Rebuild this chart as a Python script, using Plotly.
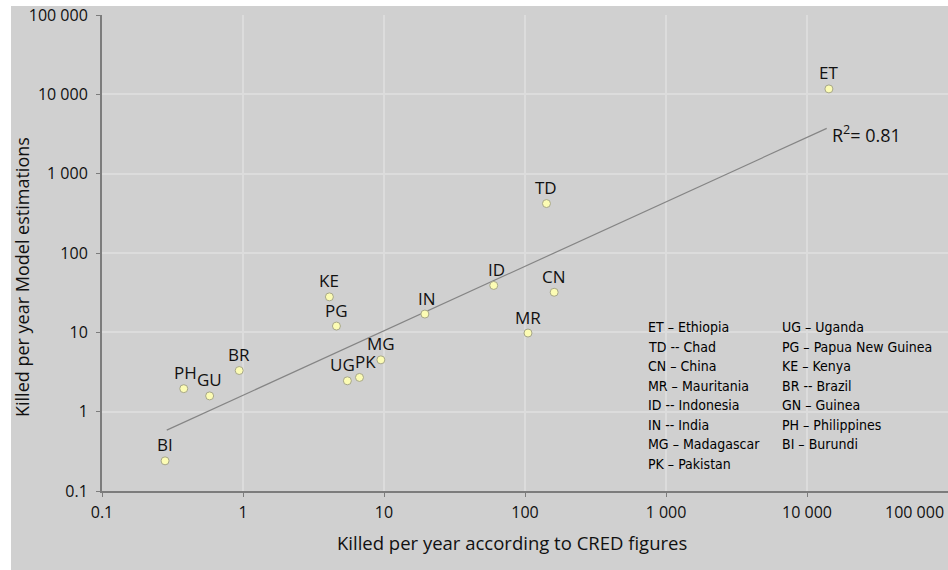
import math
import plotly.graph_objects as go

# Country codes with deaths per year: CRED records vs. model estimates
codes = ["ET", "TD", "CN", "MR", "ID", "IN", "KE", "PG", "MG", "PK", "UG", "BR", "PH", "GU", "BI"]
cred_killed = [14300, 142, 161, 105, 60, 19.5, 4.1, 4.6, 9.5, 6.7, 5.5, 0.94, 0.38, 0.58, 0.28]
model_killed = [11700, 420, 32, 9.8, 39, 17, 28, 12, 4.5, 2.7, 2.45, 3.3, 1.95, 1.58, 0.24]

# Power-law trend line end points and its fit quality
trend_x = [0.288, 13800]
trend_y = [0.585, 3725]
r_squared = "0.81"

# Axis ticks
tick_vals = [0.1, 1, 10, 100, 1000, 10000, 100000]
tick_text = ["0.1", "1", "10", "100", "1 000", "10 000", "100 000"]

# Key to the country codes (two columns)
key_left = ["ET – Ethiopia", "TD -- Chad", "CN – China", "MR – Mauritania",
            "ID -- Indonesia", "IN -- India", "MG – Madagascar", "PK – Pakistan"]
key_right = ["UG – Uganda", "PG – Papua New Guinea", "KE – Kenya", "BR -- Brazil",
             "GN – Guinea", "PH – Philippines", "BI – Burundi"]

# small horizontal nudges (px) so crowded point labels do not collide
label_nudge = {"UG": -5, "PK": 6, "ID": 3, "PH": 2, "IN": 2}

BG = "#d0d0d0"
GRID = "#dcdcdc"
AXIS = "#7c7c7c"
TXT = "#111111"
FONT = "Open Sans"

W, H = 948, 570
ML, MR_, MT, MB = 102, 0, 15, 79
PW, PH_ = W - ML - MR_, H - MT - MB

fig = go.Figure()

fig.add_trace(go.Scatter(
    x=trend_x, y=trend_y, mode="lines",
    line=dict(color="#858585", width=1.2),
    hoverinfo="skip", showlegend=False,
))

fig.add_trace(go.Scatter(
    x=cred_killed, y=model_killed, mode="markers",
    marker=dict(size=8, color="#fcfcb4", line=dict(color="#a6a68a", width=1)),
    showlegend=False,
))

axis_common = dict(
    type="log", range=[-1, 5],
    showgrid=True, gridcolor=GRID, gridwidth=2,
    showline=True, linecolor=AXIS, linewidth=2,
    ticks="outside", ticklen=4, tickcolor=AXIS, tickwidth=1,
    tickfont=dict(family=FONT, size=16, color=TXT),
    zeroline=False,
)

# last x label is right-aligned separately to stay inside the page
fig.update_xaxes(**axis_common, tickvals=tick_vals, ticktext=tick_text[:-1] + [""],
                 ticklabelstandoff=2)
fig.update_yaxes(**axis_common, tickvals=tick_vals, ticktext=tick_text,
                 ticklabelstandoff=5)

annotations = [
    dict(x=1, y=0, xref="paper", yref="paper", text=tick_text[-1],
         showarrow=False, xanchor="right", yanchor="top", yshift=-8, xshift=-2,
         font=dict(family=FONT, size=16, color=TXT)),
    dict(x=(512 - ML) / PW, y=1 - (542 - MT) / PH_, xref="paper", yref="paper",
         text="Killed per year according to CRED figures", showarrow=False,
         xanchor="center", yanchor="middle",
         font=dict(family=FONT, size=18.5, color=TXT)),
    dict(x=(22 - ML) / PW, y=1 - (277 - MT) / PH_, xref="paper", yref="paper",
         text="Killed per year Model estimations", showarrow=False, textangle=-90,
         xanchor="center", yanchor="middle",
         font=dict(family=FONT, size=18, color=TXT)),
    dict(x=math.log10(trend_x[1]), y=math.log10(trend_y[1]), xref="x", yref="y",
         text="R<sup>2</sup>= " + r_squared, showarrow=False,
         xanchor="left", yanchor="middle", xshift=3, yshift=-6,
         font=dict(family=FONT, size=18, color=TXT)),
]

# point labels just above each marker
for code, cx, my in zip(codes, cred_killed, model_killed):
    annotations.append(dict(
        x=math.log10(cx), y=math.log10(my), xref="x", yref="y",
        text=code, showarrow=False, xanchor="center", yanchor="middle",
        xshift=label_nudge.get(code, 0), yshift=16,
        font=dict(family=FONT, size=17, color=TXT),
    ))

row_px = [327, 346.5, 366, 385.5, 405, 424.5, 444, 463.5]
for col_x, items in ((648, key_left), (782, key_right)):
    for i, label in enumerate(items):
        annotations.append(dict(
            x=(col_x - ML) / PW, y=1 - (row_px[i] - MT) / PH_,
            xref="paper", yref="paper", text=label, showarrow=False,
            xanchor="left", yanchor="middle", xshift=-2,
            font=dict(family="DejaVu Sans Condensed", size=14, color="#000000"),
        ))

# white page edge along the top and left
shapes = [
    dict(type="rect", xref="paper", yref="paper",
         x0=-ML / PW, x1=(11 - ML) / PW, y0=-MB / PH_ - 0.01, y1=1 + MT / PH_ + 0.01,
         fillcolor="white", line=dict(width=0), layer="below"),
    dict(type="rect", xref="paper", yref="paper",
         x0=-ML / PW, x1=1.01, y0=1 + (MT - 6) / PH_, y1=1 + MT / PH_ + 0.01,
         fillcolor="white", line=dict(width=0), layer="below"),
]

fig.update_layout(
    width=W, height=H,
    margin=dict(l=ML, r=MR_, t=MT, b=MB),
    paper_bgcolor=BG, plot_bgcolor=BG,
    annotations=annotations, shapes=shapes,
    font=dict(family=FONT, color=TXT),
)

fig.write_html("out.html")
